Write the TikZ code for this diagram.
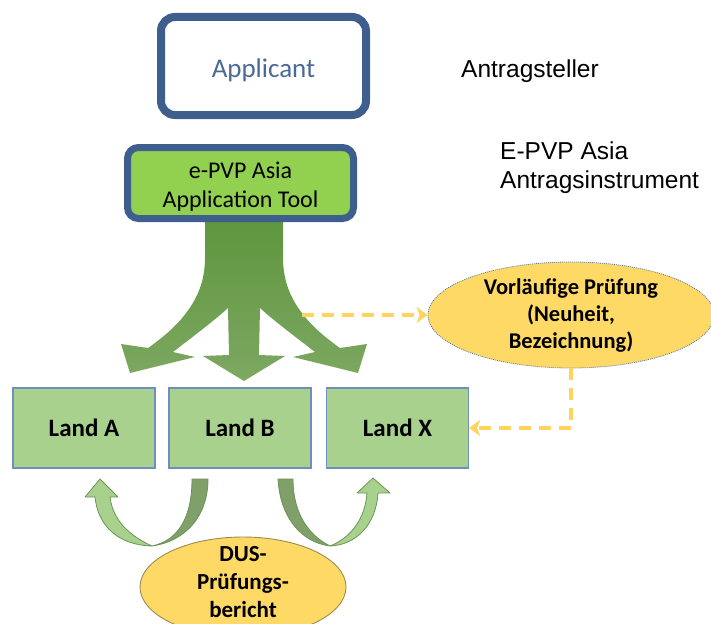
\documentclass[tikz,border=0pt]{standalone}
\usepackage{fontspec}
\setmainfont{Carlito}
\newfontfamily\arialf{Liberation Sans}
\usetikzlibrary{shapes.geometric,arrows.meta}
\definecolor{bordblue}{HTML}{3E5F8E}
\definecolor{apptext}{HTML}{4A6A96}
\definecolor{toolgreen}{HTML}{92D050}
\definecolor{landfill}{HTML}{A9D18E}
\definecolor{landedge}{HTML}{6F8FBF}
\definecolor{ellfill}{HTML}{FFD966}
\definecolor{elledge}{HTML}{5B7BA0}
\definecolor{dusedge}{HTML}{9C8A50}
\definecolor{dashyel}{HTML}{FFD45C}
\definecolor{arrtop}{HTML}{5F963E}
\definecolor{arrbot}{HTML}{7DA862}
\definecolor{udark}{HTML}{7FA068}
\definecolor{uedge}{HTML}{6A9458}
\begin{document}
\begin{tikzpicture}[x=1pt,y=-1pt,
  appbox/.style={draw=bordblue,line width=8pt,rounded corners=14pt,fill=white,
    minimum width=205pt,minimum height=98pt,inner sep=0pt,
    text=apptext,font=\fontsize{27}{32}\selectfont},
  toolbox/.style={draw=bordblue,line width=7pt,rounded corners=11pt,fill=toolgreen,
    minimum width=226pt,minimum height=71pt,inner sep=0pt,
    font=\fontsize{24}{29}\selectfont},
  landbox/.style={draw=landedge,line width=1.2pt,fill=landfill,
    minimum width=142pt,minimum height=80pt,inner sep=0pt,
    font=\bfseries\fontsize{25}{30}\selectfont},
  sidetext/.style={font=\arialf\fontsize{24.5}{29}\selectfont,align=left,inner sep=0pt},
  vpell/.style={ellipse,draw=elledge,line width=0.8pt,dash pattern=on 1pt off 1pt,fill=ellfill,
    minimum width=286pt,minimum height=106pt,inner sep=0pt},
  dusell/.style={ellipse,draw=dusedge,line width=0.9pt,fill=ellfill,
    minimum width=206pt,minimum height=100pt,inner sep=0pt},
  elltext/.style={font=\bfseries\fontsize{22.5}{27}\selectfont,align=center,inner sep=0pt},
  yeldash/.style={draw=dashyel,line width=4pt,dash pattern=on 12pt off 8pt,
    -{Stealth[length=11pt,width=16pt,inset=3pt]}},
  bigarrow/.style={top color=arrtop,bottom color=arrbot,draw=none},
  ulight/.style={fill=landfill,draw=uedge,line width=0.8pt,line join=round},
  udarkst/.style={fill=udark,draw=uedge,line width=0.8pt,line join=round}
]
\useasboundingbox (0,0) rectangle (711,623);
\clip (0,0) rectangle (711,623);

% big three-way arrow
\path[bigarrow] (205,222) -- (205,258)
  .. controls (205,292) and (188,320) .. (148,348)
  -- (121,344) -- (130,373) -- (195,357) -- (173,352)
  .. controls (195,335) and (215,320) .. (228,308)
  -- (229,355) -- (203,356) -- (244,381) -- (285,356) -- (259,355) -- (260,308)
  .. controls (273,320) and (293,335) .. (315,352)
  -- (293,357) -- (358,373) -- (367,344) -- (340,348)
  .. controls (300,320) and (283,292) .. (283,258)
  -- (283,222) -- cycle;

% boxes
\node[appbox] (app) at (263.5,66) {\raisebox{-4pt}[\height][\depth]{Applicant}};
\node[toolbox] (tool) at (240.5,183) {\raisebox{-4pt}[\height][\depth]{\parbox{220pt}{\centering e-PVP Asia\\Application Tool}}};

\node[sidetext,anchor=base west] (antr) at (461,78) {Antragsteller};
\node[sidetext,anchor=west] (epvp) at (500,167.5) {E-PVP Asia\\Antragsinstrument};

\node[landbox] (landA) at (84,428) {Land A};
\node[landbox] (landB) at (240,428) {Land B};
\node[landbox] (landX) at (397.5,428) {Land X};

% Vorlaeufige Pruefung
\node[vpell] (vp) at (571,315) {};
\node[elltext] (vptext) at (vp.center) {Vorläufige Prüfung\\(Neuheit,\\Bezeichnung)};

% dashed connectors
\coordinate (gx) at (302,315);
\draw[yeldash] (gx) -- (vp.west);
\draw[yeldash] (vp.south) |- (landX.east);

% bottom U arrows
\path[udarkst] (192,479) .. controls (192,515) and (180,540) .. (152,546)
  .. controls (186,541) and (208,516) .. (208,479) -- cycle;
\path[ulight] (95,497) .. controls (98,526) and (118,545) .. (152,546)
  .. controls (132,537) and (113,522) .. (110,497) -- (118,497) -- (100,479) -- (85,497) -- cycle;

\path[udarkst] (278,479) .. controls (280,516) and (300,542) .. (330,546)
  .. controls (310,536) and (293,515) .. (293,479) -- cycle;
\path[ulight] (330,546) .. controls (356,545) and (376,525) .. (378,493)
  -- (390,493) -- (373,478) -- (357,493) -- (367,493)
  .. controls (365,520) and (350,538) .. (330,546) -- cycle;

% DUS report
\node[dusell] (dus) at (243,587) {};
\node[elltext,font=\bfseries\fontsize{23}{28}\selectfont] (dustext) at (243,582) {DUS-\\Prüfungs-\\bericht};
\end{tikzpicture}
\end{document}
